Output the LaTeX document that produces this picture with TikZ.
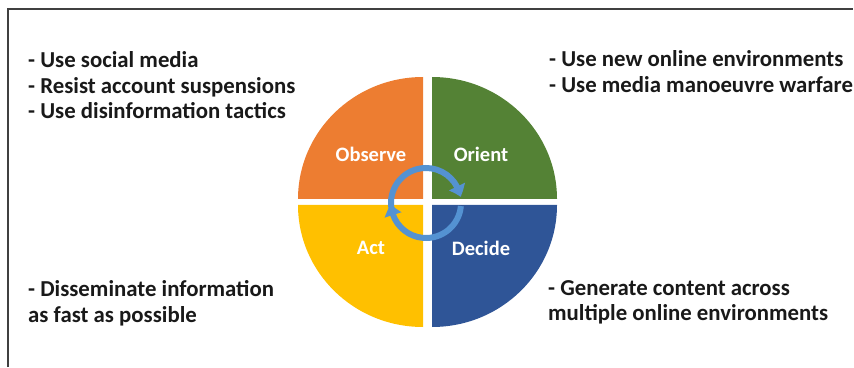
\documentclass[tikz,border=0pt]{standalone}
\usepackage{fontspec}
\setmainfont{Carlito}
\usetikzlibrary{arrows.meta,bending}
\definecolor{obsorange}{RGB}{237,125,49}
\definecolor{oriengreen}{RGB}{84,130,53}
\definecolor{decblue}{RGB}{47,85,151}
\definecolor{actyellow}{RGB}{255,192,0}
\definecolor{loopblue}{RGB}{84,146,210}
\definecolor{framegray}{RGB}{64,64,64}

\begin{document}
\begin{tikzpicture}[x=1pt, y=1pt,
  phase/.style={text=white, font=\bfseries\fontsize{20.5}{24}\selectfont},
  tactic/.style={font=\bfseries\fontsize{22.8}{25.5}\selectfont,
    align=left, anchor=west, inner sep=0pt, text=black!90},
  loop/.style={line width=6pt, loopblue,
    -{Triangle[bend, width=17pt, length=11pt]}},
]
\useasboundingbox (0,0) rectangle (854,367);
\draw[framegray, line width=1.5pt] (8,0) -- (8,358) -- (853,358);

% the four OODA quadrants
\fill[obsorange] (423,168) -- ++(-125,0)
  arc[start angle=180, end angle=90, x radius=125, y radius=122] -- cycle;
\fill[oriengreen] (432,168) -- ++(0,122)
  arc[start angle=90, end angle=0, x radius=125, y radius=122] -- cycle;
\fill[decblue] (432,162) -- ++(125,0)
  arc[start angle=0, end angle=-90, x radius=125, y radius=122] -- cycle;
\fill[actyellow] (423,162) -- ++(0,-122)
  arc[start angle=-90, end angle=-180, x radius=125, y radius=122] -- cycle;

\node[phase] (observe) at (371,213) {Observe};
\node[phase] (orient) at (481,213) {Orient};
\node[phase] (act) at (371,119) {Act};
\node[phase] (decide) at (481,119) {Decide};

% loop in the middle
\coordinate (hub) at (426,164);
\draw[loop] ([shift={(190:35)}]hub) arc[start angle=190, end angle=10, radius=35];
\draw[loop] ([shift={(-5:35)}]hub) arc[start angle=-5, end angle=-178, radius=35];

% tactics per phase
\node[tactic] (observetxt) at (28,281.5)
  {- Use social media\\- Resist account suspensions\\- Use disinformation tactics};
\node[tactic] (orienttxt) at (549,295.5)
  {- Use new online environments\\- Use media manoeuvre warfare};
\node[tactic] (acttxt) at (28,63.5)
  {- Disseminate information\\as fast as possible};
\node[tactic] (decidetxt) at (548,64.5)
  {- Generate content across\\multiple online environments};

\end{tikzpicture}
\end{document}
